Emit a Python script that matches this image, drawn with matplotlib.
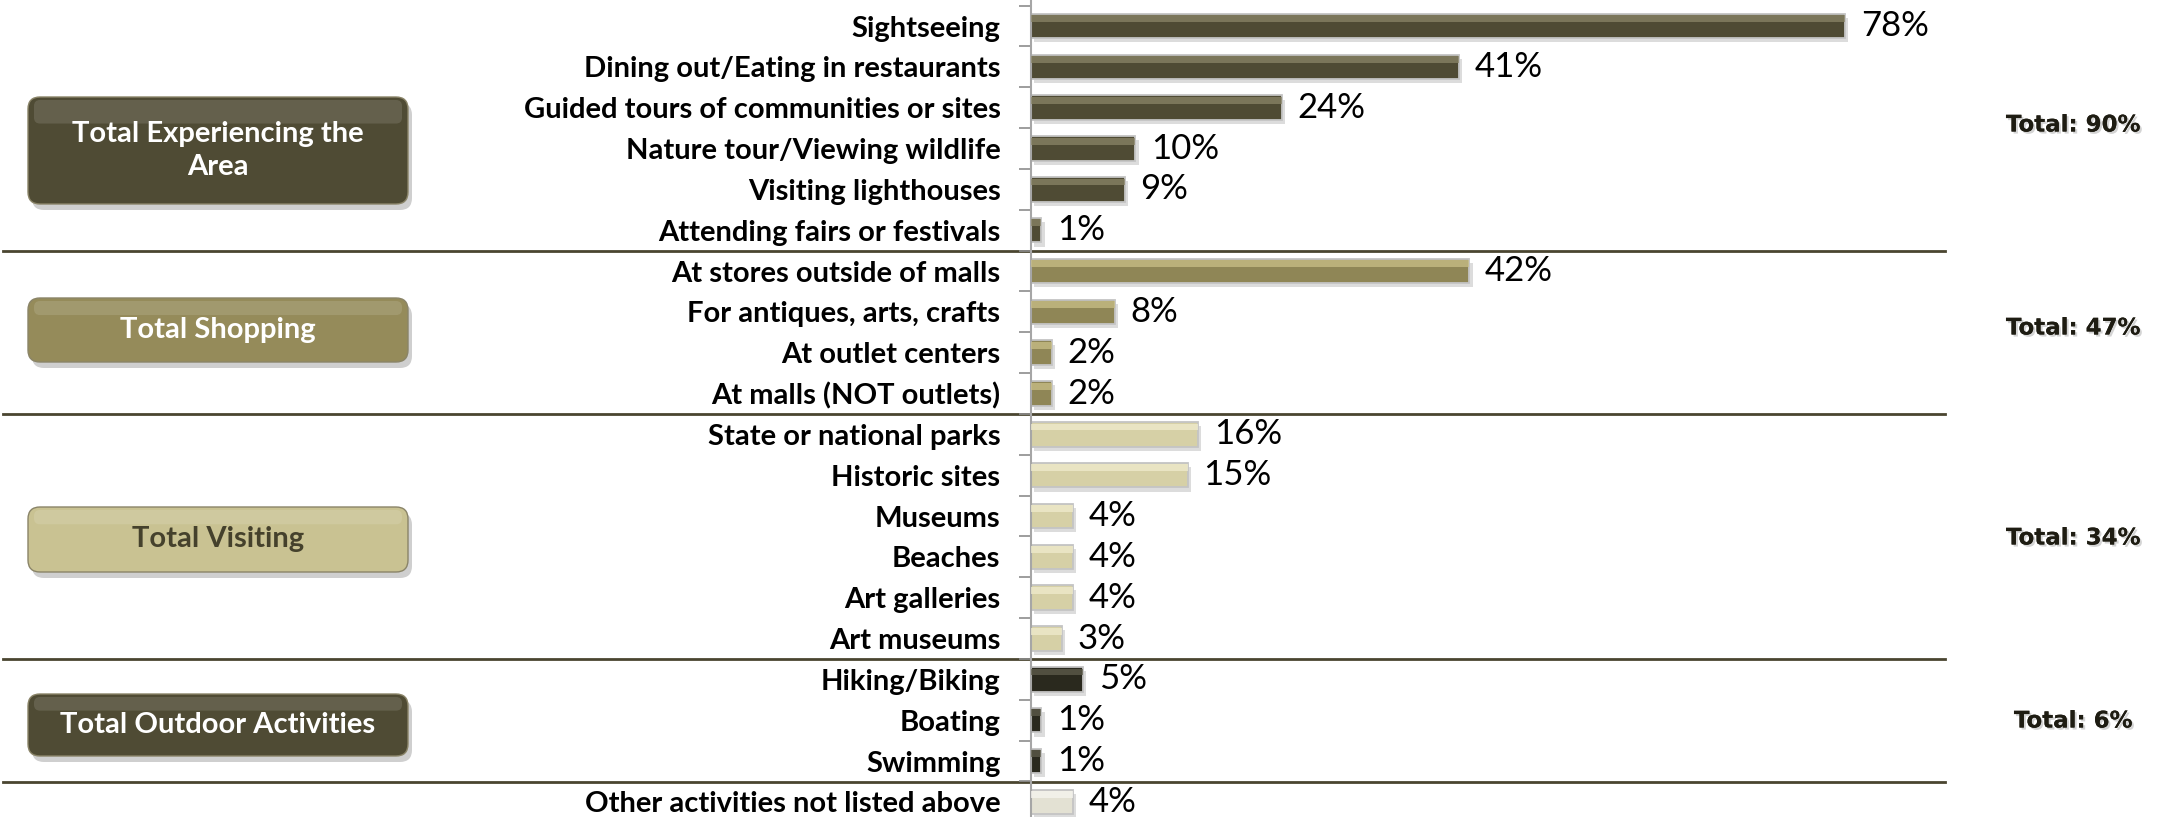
import matplotlib
matplotlib.use("Agg")
import matplotlib.pyplot as plt
from matplotlib.patches import FancyBboxPatch
import matplotlib.patheffects as pe

# activities and shares (%), top to bottom
activities = ['Sightseeing', 'Dining out/Eating in restaurants', 'Guided tours of communities or sites',
              'Nature tour/Viewing wildlife', 'Visiting lighthouses', 'Attending fairs or festivals',
              'At stores outside of malls', 'For antiques, arts, crafts', 'At outlet centers',
              'At malls (NOT outlets)',
              'State or national parks', 'Historic sites', 'Museums', 'Beaches', 'Art galleries',
              'Art museums',
              'Hiking/Biking', 'Boating', 'Swimming',
              'Other activities not listed above']
values = [78, 41, 24, 10, 9, 1, 42, 8, 2, 2, 16, 15, 4, 4, 4, 3, 5, 1, 1, 4]
group_of = [0]*6 + [1]*4 + [2]*6 + [3]*3 + [4]

groups = ['Total Experiencing the\nArea', 'Total Shopping', 'Total Visiting', 'Total Outdoor Activities']
group_totals = ['Total: 90%', 'Total: 47%', 'Total: 34%', 'Total: 6%']

bar_colors = ['#4f4b34', '#8f8656', '#d6d0a6', '#2a291e', '#e3e1d3']
bar_tops = ['#8a8568', '#c9bf87', '#f0ecce', '#5f5d4c', '#f7f6f0']
box_colors = ['#4f4b34', '#958b5a', '#c9c292', '#4f4b34']
box_text = ['white', 'white', '#45412c', 'white']

lab_font = 'Lato'

W, H = 2162, 817
fig = plt.figure(figsize=(W/100, H/100), dpi=100)

# overlay in pixel units for boxes, separators and totals
ov = fig.add_axes([0, 0, 1, 1])
ov.set_xlim(0, W)
ov.set_ylim(H, 0)
ov.axis('off')

ax = fig.add_axes([1031/W, 0, 1044/W, 1])
ax.patch.set_alpha(0)
ax.set_xlim(0, 100)
ax.set_ylim(19.37, -0.637)

ypos = list(range(len(activities)))
bh = 0.6
# shadow, body, highlight
ax.barh([y + 0.1 for y in ypos], values, height=bh, left=0.3, color='#dcdcdc', zorder=1)
ax.barh(ypos, values, height=bh, color=[bar_colors[g] for g in group_of],
        edgecolor='#c4c4c4', linewidth=1.3, zorder=2)
ax.barh([y - bh*0.3 for y in ypos], values, height=bh*0.28,
        color=[bar_tops[g] for g in group_of], linewidth=0, zorder=3, alpha=0.75)

for y, v in zip(ypos, values):
    ax.text(v + 1.5, y, f'{v}%', va='center', ha='left', fontsize=25,
            family=lab_font, color='black')

ax.set_yticks(ypos)
ax.set_yticklabels(activities, fontsize=21, family=lab_font, fontweight='bold')
ax.tick_params(axis='y', which='major', length=0, pad=22)
ax.set_yticks([y + 0.5 for y in ypos[:-1]] + [-0.5], minor=True)
ax.tick_params(axis='y', which='minor', length=9, width=1.2, color='#8c8c8c')
ax.set_xticks([])
for s in ['top', 'right', 'bottom']:
    ax.spines[s].set_visible(False)
ax.spines['left'].set_color('#a6a6a6')
ax.spines['left'].set_linewidth(1.5)

# separators between groups (row boundaries converted to pixels)
row_px = lambda r: 26 + 40.84 * r
for yb in [5.5, 9.5, 15.5, 18.5]:
    ov.plot([3, 1945], [row_px(yb), row_px(yb)], color='#4a4530', lw=2, zorder=5)

# group boxes
box_top = [97, 298, 507, 694]
box_h = [107, 64, 65, 62]
x0, bw = 28, 380
for i, g in enumerate(groups):
    t, h = box_top[i], box_h[i]
    ov.add_patch(FancyBboxPatch((x0 + 4, t + 6), bw, h, boxstyle='round,pad=0,rounding_size=12',
                                facecolor='#cfcfcf', edgecolor='none', zorder=4))
    ov.add_patch(FancyBboxPatch((x0, t), bw, h, boxstyle='round,pad=0,rounding_size=12',
                                facecolor=box_colors[i], edgecolor='#8a8468', lw=1, zorder=5))
    ov.add_patch(FancyBboxPatch((x0 + 6, t + 3), bw - 12, h * 0.22,
                                boxstyle='round,pad=0,rounding_size=6',
                                facecolor='white', alpha=0.12, edgecolor='none', zorder=6))
    ov.text(x0 + bw / 2, t + h / 2, g, ha='center', va='center', fontsize=21,
            family=lab_font, fontweight='bold', color=box_text[i], zorder=7, linespacing=1.3)

tot_y = [125, 328, 538, 721]
for txt, y in zip(group_totals, tot_y):
    ov.text(2073, y, txt, ha='center', va='center', fontsize=16.5,
            family='DejaVu Sans', fontweight='bold', color='#1e1c12', zorder=7,
            path_effects=[pe.withSimplePatchShadow(offset=(1.5, -1.5), shadow_rgbFace='#aaaaaa', alpha=0.5),
                          pe.Normal()])

fig.savefig('out.png', dpi=100, facecolor='white')
